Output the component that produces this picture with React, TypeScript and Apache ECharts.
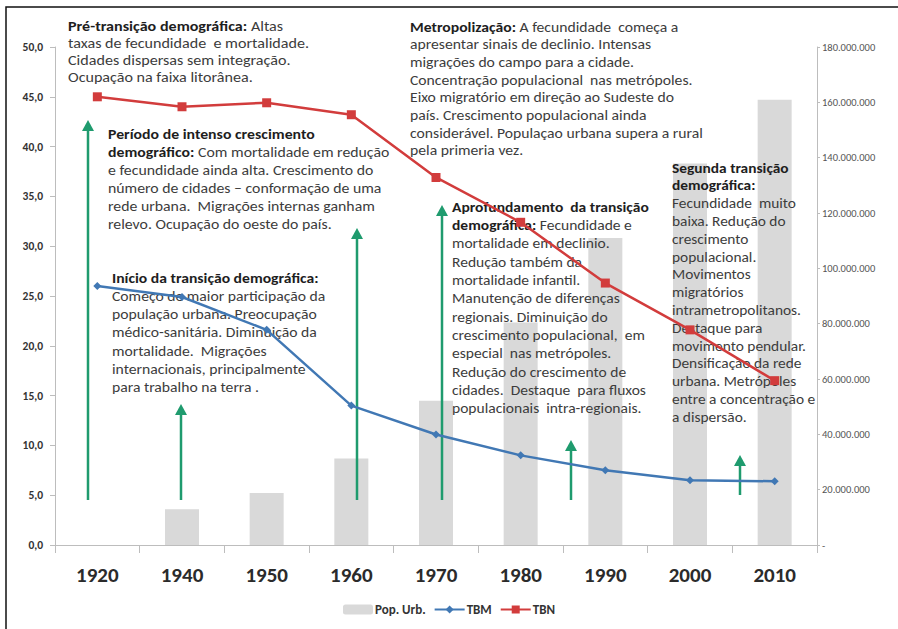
import React, { useEffect, useRef } from 'react';
import * as echarts from 'echarts';

const years = ['1920', '1940', '1950', '1960', '1970', '1980', '1990', '2000', '2010'];
const popUrb = [null, 12.9e6, 18.8e6, 31.3e6, 52.1e6, 80.4e6, 111.0e6, 137.9e6, 160.9e6];
const tbm = [26.0, 24.9, 21.6, 14.0, 11.1, 9.0, 7.5, 6.5, 6.4];
const tbn = [45.0, 44.0, 44.4, 43.2, 36.9, 32.4, 26.3, 21.6, 16.5];
const leftAxis = { min: 0, max: 50, interval: 5 };
const rightAxis = { min: 0, max: 180e6, interval: 20e6 };

const textPre = [
  '{b|Pré-transição demográfica:} Altas',
  'taxas de fecundidade  e mortalidade.',
  'Cidades dispersas sem integração.',
  'Ocupação na faixa litorânea.',
];
const textMetro = [
  '{b|Metropolização:} A fecundidade  começa a',
  'apresentar sinais de declinio. Intensas',
  'migrações do campo para a cidade.',
  'Concentração populacional  nas metrópoles.',
  'Eixo migratório em direção ao Sudeste do',
  'país. Crescimento populacional ainda',
  'considerável. Populaçao urbana supera a rural',
  'pela primeria vez.',
];
const textIntenso = [
  '{b|Período de intenso crescimento}',
  '{b|demográfico:} Com mortalidade em redução',
  'e fecundidade ainda alta. Crescimento do',
  'número de cidades – conformação de uma',
  'rede urbana.  Migrações internas ganham',
  'relevo. Ocupação do oeste do país.',
];
const textInicio = [
  '{b|Início da transição demográfica:}',
  'Começo de maior participação da',
  'população urbana. Preocupação',
  'médico-sanitária. Diminuição da',
  'mortalidade.  Migrações',
  'internacionais, principalmente',
  'para trabalho na terra .',
];
const textAprof = [
  '{b|Aprofundamento  da transição}',
  '{b|demográfica:} Fecundidade e',
  'mortalidade em declinio.',
  'Redução também da',
  'mortalidade infantil.',
  'Manutenção de diferenças',
  'regionais. Diminuição do',
  'crescimento populacional,  em',
  'especial  nas metrópoles.',
  'Redução do crescimento de',
  'cidades.  Destaque  para fluxos',
  'populacionais  intra-regionais.',
];
const textSegunda = [
  '{b|Segunda transição}',
  '{b|demográfica:}',
  'Fecundidade  muito',
  'baixa. Redução do',
  'crescimento',
  'populacional.',
  'Movimentos',
  'migratórios',
  'intrametropolitanos.',
  'Destaque para',
  'movimento pendular.',
  'Densificação da rede',
  'urbana. Metrópoles',
  'entre a concentração e',
  'a dispersão.',
];

const FONT = 'Carlito, Lato, "Open Sans", sans-serif';
const NARROW = 'Carlito, "Liberation Sans Narrow", "DejaVu Sans Condensed", sans-serif';
const GREEN = '#1f9b6e';
const TXT_Z = 3;

function block(lines: string[], x: number, y: number, lh: number, sx: number) {
  return {
    type: 'text',
    x,
    y,
    scaleX: sx,
    z: TXT_Z,
    style: {
      text: lines.join('\n'),
      fontFamily: FONT,
      fontSize: 14,
      lineHeight: lh,
      fill: '#3c3c3c',
      verticalAlign: 'top',
      rich: {
        b: { fontFamily: FONT, fontSize: 14, lineHeight: lh, fontWeight: 'bold', fill: '#1e1e1e' },
      },
    },
  };
}

function arrow(x: number, tip: number, base: number) {
  return [
    { type: 'line', z: TXT_Z, shape: { x1: x, y1: base, x2: x, y2: tip + 8 }, style: { stroke: GREEN, lineWidth: 2.5 } },
    {
      type: 'polygon',
      z: TXT_Z,
      shape: { points: [[x - 6, tip + 11], [x + 6, tip + 11], [x, tip]] },
      style: { fill: GREEN },
    },
  ];
}

function fmtDots(v: number) {
  if (v === 0) return '-';
  return String(Math.round(v)).replace(/\B(?=(\d{3})+(?!\d))/g, '.');
}

export default function App() {
  const ref = useRef<HTMLDivElement>(null);
  useEffect(() => {
    if (!ref.current) return;
    const chart = echarts.init(ref.current, undefined, { renderer: 'svg' });
    chart.setOption({
      animation: false,
      backgroundColor: '#ffffff',
      grid: { left: 55, right: 81, top: 47, bottom: 84 },
      legend: {
        data: ['Pop. Urb.', 'TBM', 'TBN'],
        top: 598,
        left: 'center',
        itemWidth: 30,
        itemHeight: 10,
        itemGap: 8,
        textStyle: { fontFamily: NARROW, fontWeight: 'bold', fontSize: 13, color: '#333', padding: [0, 0, 0, -3] },
      },
      xAxis: {
        type: 'category',
        data: years,
        axisLine: { lineStyle: { color: '#bdbdbd', width: 1 } },
        axisTick: { show: true, length: 8, lineStyle: { color: '#bdbdbd' } },
        axisLabel: { fontFamily: NARROW, fontWeight: 'bold', fontSize: 21, color: '#2b2b2b', margin: 19 },
      },
      yAxis: [
        {
          type: 'value',
          ...leftAxis,
          axisLine: { show: true, lineStyle: { color: '#bdbdbd' } },
          axisTick: { show: true, length: 5, lineStyle: { color: '#bdbdbd' } },
          splitLine: { show: false },
          axisLabel: {
            fontFamily: NARROW,
            fontWeight: 'bold',
            fontSize: 11.5,
            color: '#333',
            margin: 12,
            formatter: (v: number) => v.toFixed(1).replace('.', ','),
          },
        },
        {
          type: 'value',
          ...rightAxis,
          position: 'right',
          axisLine: { show: true, lineStyle: { color: '#bdbdbd' } },
          axisTick: { show: true, length: 3, lineStyle: { color: '#bdbdbd' } },
          splitLine: { show: false },
          axisLabel: {
            fontFamily: FONT,
            fontSize: 10.5,
            color: '#555',
            margin: 5,
            formatter: (v: number) => fmtDots(v),
          },
        },
      ],
      series: [
        {
          name: 'Pop. Urb.',
          type: 'bar',
          yAxisIndex: 1,
          data: popUrb,
          barWidth: 34,
          z: 1,
          itemStyle: { color: '#d9d9d9' },
        },
        {
          name: 'TBM',
          type: 'line',
          yAxisIndex: 0,
          data: tbm,
          z: 5,
          symbol: 'diamond',
          symbolSize: 8,
          lineStyle: { color: '#4178b4', width: 2.5 },
          itemStyle: { color: '#4178b4' },
        },
        {
          name: 'TBN',
          type: 'line',
          yAxisIndex: 0,
          data: tbn,
          z: 5,
          symbol: 'rect',
          symbolSize: 9,
          lineStyle: { color: '#d23c3c', width: 2.5 },
          itemStyle: { color: '#d23c3c' },
        },
      ],
      graphic: {
        z: TXT_Z,
        elements: [
          { type: 'rect', z: TXT_Z, shape: { x: 6, y: 7, width: 1000, height: 1000 }, style: { fill: 'none', stroke: '#111', lineWidth: 1.5 } },
          block(textPre, 68, 18, 17, 1.15),
          block(textMetro, 410, 18, 17.7, 1.12),
          block(textIntenso, 108, 125, 18, 1.13),
          block(textInicio, 112, 269, 18.2, 1.12),
          block(textAprof, 452, 198, 18.3, 1.11),
          block(textSegunda, 672, 159, 17.8, 1.1),
          ...arrow(88, 120, 500),
          ...arrow(181, 404, 500),
          ...arrow(357, 228, 500),
          ...arrow(442, 205, 500),
          ...arrow(571, 440, 500),
          ...arrow(740, 455, 495),
        ],
      },
    });
    return () => chart.dispose();
  }, []);
  return <div ref={ref} style={{ position: 'fixed', left: 0, top: 0, width: 898, height: 629 }} />;
}
